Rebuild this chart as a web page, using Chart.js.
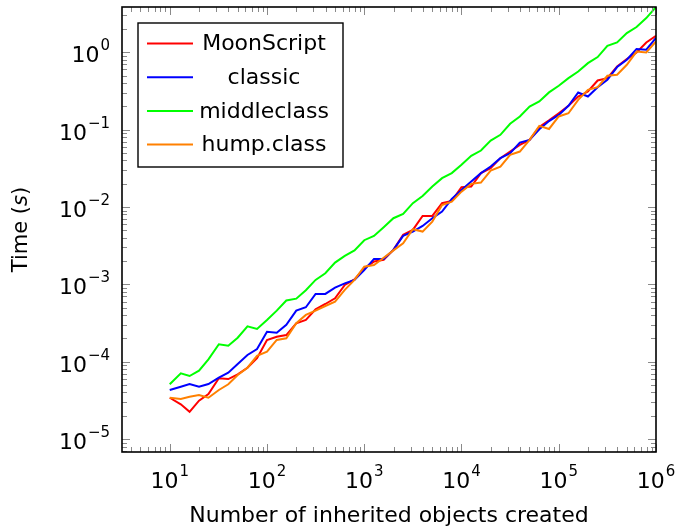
<!DOCTYPE html>
<html>
<head>
<meta charset="utf-8">
<script src="https://cdn.jsdelivr.net/npm/chart.js@4.4.1/dist/chart.umd.min.js"></script>
<style>
  body { margin: 0; background: #fff; }
</style>
</head>
<body>
<canvas id="inheritTiming" width="675" height="529"></canvas>
<script>
// number of inherited objects created (x axis)
const objectCounts = [10, 13, 16, 20, 25, 32, 40, 50, 63, 79,
  100, 126, 158, 200, 251, 316, 398, 501, 631, 794,
  1000, 1259, 1585, 1995, 2512, 3162, 3981, 5012, 6310, 7943,
  10000, 12589, 15849, 19953, 25119, 31623, 39811, 50119, 63096, 79433,
  100000, 125893, 158489, 199526, 251189, 316228, 398107, 501187, 630957, 794328, 1000000];

// time in seconds per library
const moonscript = [3.42e-5, 2.81e-5, 2.25e-5, 3.13e-5, 3.82e-5, 6.10e-5, 5.97e-5, 6.87e-5, 8.36e-5, 1.11e-4,
  1.91e-4, 2.10e-4, 2.21e-4, 3.14e-4, 3.46e-4, 4.76e-4, 5.57e-4, 6.61e-4, 9.82e-4, 1.16e-3,
  1.61e-3, 1.97e-3, 2.07e-3, 2.79e-3, 4.36e-3, 5.06e-3, 7.67e-3, 7.67e-3, 1.12e-2, 1.20e-2,
  1.80e-2, 1.84e-2, 2.74e-2, 3.18e-2, 4.28e-2, 5.21e-2, 6.35e-2, 7.38e-2, 0.108, 0.132,
  0.163, 0.203, 0.268, 0.311, 0.432, 0.463, 0.655, 0.817, 0.993, 1.34, 1.63];
const classic = [4.31e-5, 4.75e-5, 5.15e-5, 4.75e-5, 5.15e-5, 6.21e-5, 7.21e-5, 9.33e-5, 1.22e-4, 1.46e-4,
  2.44e-4, 2.37e-4, 2.99e-4, 4.57e-4, 5.06e-4, 7.52e-4, 7.52e-4, 9.06e-4, 1.03e-3, 1.14e-3,
  1.53e-3, 2.13e-3, 2.13e-3, 2.79e-3, 4.23e-3, 4.81e-3, 5.69e-3, 7.16e-3, 8.73e-3, 1.27e-2,
  1.66e-2, 2.13e-2, 2.74e-2, 3.33e-2, 4.28e-2, 4.97e-2, 6.81e-2, 7.38e-2, 0.101, 0.129,
  0.155, 0.203, 0.302, 0.268, 0.354, 0.441, 0.644, 0.800, 1.10, 1.08, 1.53];
const middleclass = [5.10e-5, 7.08e-5, 6.53e-5, 7.66e-5, 1.07e-4, 1.68e-4, 1.61e-4, 2.04e-4, 2.87e-4, 2.65e-4,
  3.46e-4, 4.57e-4, 6.19e-4, 6.53e-4, 8.38e-4, 1.14e-3, 1.39e-3, 1.91e-3, 2.33e-3, 2.74e-3,
  3.72e-3, 4.23e-3, 5.48e-3, 7.16e-3, 8.15e-3, 1.12e-2, 1.39e-2, 1.84e-2, 2.36e-2, 2.74e-2,
  3.51e-2, 4.58e-2, 5.37e-2, 7.23e-2, 8.57e-2, 0.119, 0.148, 0.199, 0.231, 0.303,
  0.369, 0.463, 0.565, 0.724, 0.867, 1.21, 1.34, 1.77, 2.12, 2.77, 3.85];
const humpClass = [3.42e-5, 3.29e-5, 3.52e-5, 3.71e-5, 3.42e-5, 4.31e-5, 5.10e-5, 6.73e-5, 8.36e-5, 1.19e-4,
  1.35e-4, 1.91e-4, 2.01e-4, 3.14e-4, 4.02e-4, 4.57e-4, 5.25e-4, 5.97e-4, 8.47e-4, 1.14e-3,
  1.69e-3, 1.78e-3, 2.21e-3, 2.75e-3, 3.40e-3, 5.16e-3, 4.81e-3, 6.47e-3, 1.06e-2, 1.17e-2,
  1.58e-2, 1.99e-2, 2.07e-2, 2.96e-2, 3.33e-2, 4.72e-2, 5.21e-2, 7.38e-2, 0.112, 0.102,
  0.148, 0.163, 0.243, 0.327, 0.354, 0.497, 0.512, 0.689, 1.02, 0.993, 1.38];

const seriesNames = ['MoonScript', 'classic', 'middleclass', 'hump.class'];
const seriesColors = ['#ff0000', '#0000ff', '#00ff00', '#ff8000'];
const seriesValues = [moonscript, classic, middleclass, humpClass];

// decade tick labels (exponents of 10)
const xTickExponents = [1, 2, 3, 4, 5, 6];
const yTickExponents = [0, -1, -2, -3, -4, -5];

const FONT = '"DejaVu Sans", sans-serif';

function drawPower(ctx, exp, left, baseline) {
  const expText = exp < 0 ? '\u2212' + Math.abs(exp) : String(exp);
  ctx.font = '22px ' + FONT;
  ctx.fillText('10', left, baseline);
  const w = ctx.measureText('10').width;
  ctx.font = '15px ' + FONT;
  ctx.fillText(expText, left + w + 1, baseline - 12);
}

function powerWidth(ctx, exp) {
  const expText = exp < 0 ? '\u2212' + Math.abs(exp) : String(exp);
  ctx.font = '22px ' + FONT;
  const w = ctx.measureText('10').width;
  ctx.font = '15px ' + FONT;
  return w + 1 + ctx.measureText(expText).width;
}

const pgfAxes = {
  id: 'pgfAxes',
  afterDraw(chart) {
    const { ctx, chartArea: a, scales: { x, y } } = chart;
    ctx.save();

    // inward tick marks on all four sides
    ctx.strokeStyle = '#8a8a8a';
    ctx.lineWidth = 1;
    ctx.beginPath();
    for (let e = -6; e <= 6; e++) {
      for (let m = 1; m <= 9; m++) {
        const v = m * Math.pow(10, e);
        const len = m === 1 ? 8 : 5;
        if (v >= x.min && v <= x.max) {
          const px = Math.round(x.getPixelForValue(v)) + 0.5;
          ctx.moveTo(px, a.bottom); ctx.lineTo(px, a.bottom - len);
          ctx.moveTo(px, a.top); ctx.lineTo(px, a.top + len);
        }
        if (v >= y.min && v <= y.max) {
          const py = Math.round(y.getPixelForValue(v)) + 0.5;
          ctx.moveTo(a.left, py); ctx.lineTo(a.left + len, py);
          ctx.moveTo(a.right, py); ctx.lineTo(a.right - len, py);
        }
      }
    }
    ctx.stroke();

    // frame
    ctx.strokeStyle = '#000';
    ctx.lineWidth = 1.6;
    ctx.strokeRect(a.left, a.top, a.right - a.left, a.bottom - a.top);

    // tick labels
    ctx.fillStyle = '#000';
    ctx.textAlign = 'left';
    ctx.textBaseline = 'alphabetic';
    xTickExponents.forEach(exp => {
      const px = x.getPixelForValue(Math.pow(10, exp));
      const w = powerWidth(ctx, exp);
      drawPower(ctx, exp, px - w / 2, a.bottom + 36);
    });
    yTickExponents.forEach(exp => {
      const py = y.getPixelForValue(Math.pow(10, exp));
      const w = powerWidth(ctx, exp);
      drawPower(ctx, exp, a.left - 12 - w, py + 10);
    });

    // axis titles
    ctx.font = '22px ' + FONT;
    ctx.textAlign = 'center';
    ctx.fillText('Number of inherited objects created', (a.left + a.right) / 2, a.bottom + 70);

    ctx.save();
    ctx.translate(22, (a.top + a.bottom) / 2);
    ctx.rotate(-Math.PI / 2);
    ctx.textAlign = 'left';
    ctx.textBaseline = 'middle';
    const upright = '21px ' + FONT, italic = 'italic 21px ' + FONT;
    ctx.font = upright; const w1 = ctx.measureText('Time (').width;
    ctx.font = italic; const w2 = ctx.measureText('s').width;
    ctx.font = upright; const w3 = ctx.measureText(')').width;
    let tx = -(w1 + w2 + w3) / 2;
    ctx.font = upright; ctx.fillText('Time (', tx, 0); tx += w1;
    ctx.font = italic; ctx.fillText('s', tx, 0); tx += w2;
    ctx.font = upright; ctx.fillText(')', tx, 0);
    ctx.restore();

    // legend box
    const bx = a.left + 16, by = a.top + 16, bw = 205, bh = 144;
    ctx.fillStyle = '#fff';
    ctx.fillRect(bx, by, bw, bh);
    ctx.strokeStyle = '#000';
    ctx.lineWidth = 1.4;
    ctx.strokeRect(bx, by, bw, bh);
    ctx.font = '22px ' + FONT;
    ctx.textAlign = 'center';
    ctx.textBaseline = 'middle';
    chart.data.datasets.forEach((ds, i) => {
      const ry = by + 20.5 + i * 33.7;
      ctx.strokeStyle = ds.borderColor;
      ctx.lineWidth = 2;
      ctx.beginPath();
      ctx.moveTo(bx + 9, ry); ctx.lineTo(bx + 55, ry);
      ctx.stroke();
      ctx.fillStyle = '#000';
      ctx.fillText(ds.label, bx + 126, ry + 1);
    });
    ctx.restore();
  }
};

new Chart(document.getElementById('inheritTiming'), {
  type: 'line',
  data: {
    datasets: seriesNames.map((name, i) => ({
      label: name,
      data: objectCounts.map((n, k) => ({ x: n, y: seriesValues[i][k] })),
      borderColor: seriesColors[i],
      backgroundColor: seriesColors[i],
      borderWidth: 2,
      pointRadius: 0,
      tension: 0,
      fill: false,
      order: seriesNames.length - i
    }))
  },
  options: {
    responsive: false,
    animation: false,
    events: [],
    layout: {
      padding: { left: 122, right: 19, top: 7, bottom: 77 }
    },
    plugins: {
      legend: { display: false },
      tooltip: { enabled: false }
    },
    scales: {
      x: {
        type: 'logarithmic',
        min: 3.23,
        max: 1e6,
        display: false
      },
      y: {
        type: 'logarithmic',
        min: 6.8e-6,
        max: 3.85,
        display: false
      }
    }
  },
  plugins: [pgfAxes]
});
</script>
</body>
</html>
